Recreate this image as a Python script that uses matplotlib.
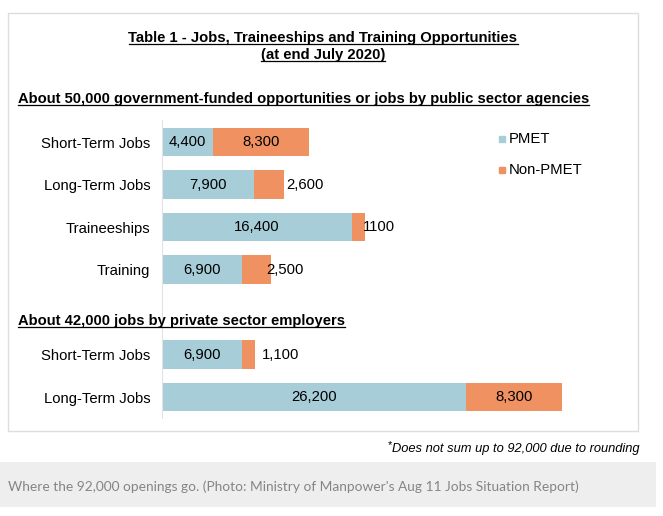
import matplotlib
matplotlib.use("Agg")
import matplotlib.pyplot as plt
from matplotlib.patches import Rectangle
from matplotlib.lines import Line2D

# data
categories = ["Short-Term Jobs", "Long-Term Jobs", "Traineeships", "Training",
              "Short-Term Jobs", "Long-Term Jobs"]
positions = [0, 1, 2, 3, 5, 6]          # gap row between the two sections
pmet = [4400, 7900, 16400, 6900, 6900, 26200]
non_pmet = [8300, 2600, 1100, 2500, 1100, 8300]
non_pmet_text = ["8,300", "2,600", "1100", "2,500", "1,100", "8,300"]

title = "Table 1 - Jobs, Traineeships and Training Opportunities"
subtitle = "(at end July 2020)"
section_public = "About 50,000 government-funded opportunities or jobs by public sector agencies"
section_private = "About 42,000 jobs by private sector employers"
footnote = "Does not sum up to 92,000 due to rounding"
caption = "Where the 92,000 openings go. (Photo: Ministry of Manpower's Aug 11 Jobs Situation Report)"

BLUE = "#a7cdd9"
ORANGE = "#ef9160"
W, H = 663, 516
FS = 10.7

plt.rcParams["font.family"] = ["Liberation Sans", "DejaVu Sans"]

fig = plt.figure(figsize=(W / 100, H / 100), dpi=100)
fig.patch.set_facecolor("white")


def fx(x):
    return x / W


def fy(y):
    return 1 - y / H


# outer box and caption band
fig.patches.append(Rectangle((fx(8), fy(431)), fx(638) - fx(8), fy(13) - fy(431),
                             transform=fig.transFigure, fill=False,
                             edgecolor="#dddddd", lw=1))
fig.patches.append(Rectangle((0, fy(507)), fx(656), fy(462) - fy(507),
                             transform=fig.transFigure, facecolor="#eeeeee",
                             edgecolor="none"))

# bar axes (pixel layout: zero at x=162, rows 42.5px apart)
px_per_unit = 0.0116
xmax = 38000
ax_top, ax_bot = 120, 418
ax = fig.add_axes([fx(162), fy(ax_bot), xmax * px_per_unit / W, (ax_bot - ax_top) / H])
ax.set_xlim(0, xmax)
ax.set_ylim((ax_bot - 142) / 42.5, (ax_top - 142) / 42.5)
ax.patch.set_alpha(0)

bh = 0.66
ax.barh(positions, pmet, height=bh, color=BLUE, label="PMET")
ax.barh(positions, non_pmet, left=pmet, height=bh, color=ORANGE, label="Non-PMET")

for s in ["top", "right", "bottom"]:
    ax.spines[s].set_visible(False)
ax.spines["left"].set_color("#e3e3e3")
ax.set_xticks([])
ax.set_yticks(positions)
ax.set_yticklabels(categories, fontsize=FS)
ax.tick_params(axis="y", length=0, pad=8.5)

# data labels
nudge = [0, 2, -2, -5, 7, 0]   # px, mimics Excel placement
for i, y in enumerate(positions):
    ax.text(pmet[i] / 2, y, f"{pmet[i]:,}", ha="center", va="center", fontsize=FS)
    if non_pmet[i] > 5000:
        ax.text(pmet[i] + non_pmet[i] / 2, y, non_pmet_text[i],
                ha="center", va="center", fontsize=FS)
    else:
        xe = pmet[i] + non_pmet[i] + nudge[i] / px_per_unit
        ax.text(xe, y, non_pmet_text[i], ha="left", va="center", fontsize=FS)

# legend drawn by hand
for lab, col, y in [("PMET", BLUE, 139), ("Non-PMET", ORANGE, 170)]:
    fig.patches.append(Rectangle((fx(499), fy(y + 3)), fx(6), 6 / H,
                                 transform=fig.transFigure, color=col))
    fig.text(fx(509), fy(y), lab, fontsize=FS, va="center", ha="left")

# titles (underlined)
texts = []
texts.append(fig.text(fx(323), fy(38), title, fontsize=10.7, fontweight="bold",
                      ha="center", va="center"))
texts.append(fig.text(fx(323), fy(55), subtitle, fontsize=10.7, fontweight="bold",
                      ha="center", va="center"))
texts.append(fig.text(fx(18), fy(99), section_public, fontsize=10.6,
                      fontweight="bold", ha="left", va="center"))
texts.append(fig.text(fx(18), fy(321), section_private, fontsize=10.6,
                      fontweight="bold", ha="left", va="center"))

fig.canvas.draw()
r = fig.canvas.get_renderer()
for t in texts:
    bb = t.get_window_extent(r)
    yl = bb.y0 + 1.5
    fig.lines.append(Line2D([bb.x0, bb.x1], [yl, yl], transform=None,
                            color="black", lw=0.9))

# footnote
fn = fig.text(fx(640), fy(449), footnote, fontsize=9.3, style="italic",
              ha="right", va="center")
fig.canvas.draw()
bb = fn.get_window_extent(r)
fig.text(bb.x0 / W, fy(445), "*", fontsize=8, ha="right", va="center")

# caption
fig.text(fx(8), fy(487), caption, fontsize=9.9, color="#858585",
         family=["Lato", "DejaVu Sans"], ha="left", va="center")

fig.savefig("out.png", dpi=100)
